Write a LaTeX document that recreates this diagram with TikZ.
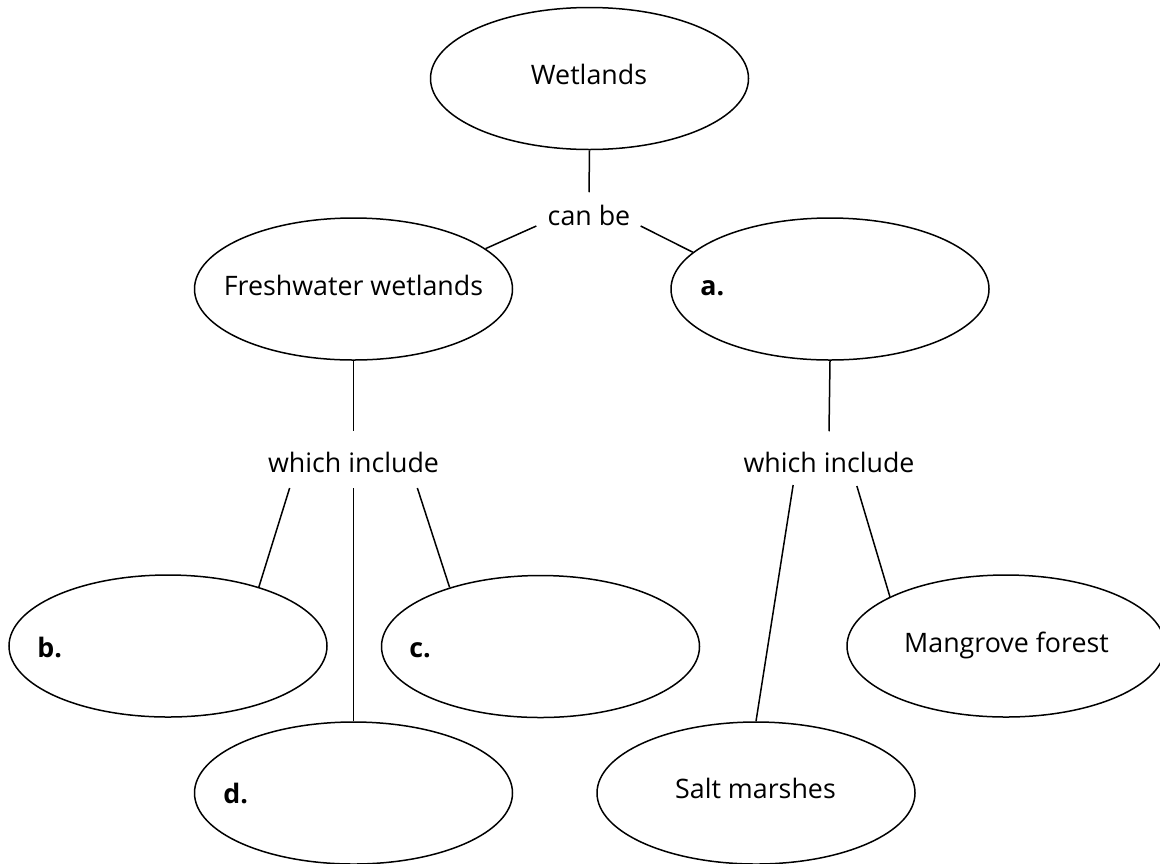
\documentclass[tikz,border=0pt]{standalone}
\usepackage{fontspec}
\setmainfont{Open Sans}
\usetikzlibrary{shapes.geometric}
\begin{document}
\begin{tikzpicture}[x=0.5pt,y=-0.5pt,
  every node/.style={font=\fontsize{13.4}{16}\selectfont},
  oval/.style={draw, ellipse, line width=0.75pt, minimum width=159pt, minimum height=71pt, inner sep=0pt},
  txt/.style={inner sep=0pt, anchor=base},
  lbl/.style={inner sep=0pt, anchor=base west, font=\fontsize{13.4}{16}\selectfont\bfseries},
  conn/.style={line width=0.75pt}]
\useasboundingbox (0,0) rectangle (1160,863);
% ellipses
\node[oval] (wet) at (589.5,78.5) {};
\node[oval] (fw) at (353.5,289) {};
\node[oval] (sw) at (830,289) {};
\node[oval] (b) at (168,646) {};
\node[oval] (c) at (540.5,646.5) {};
\node[oval] (d) at (353.5,793) {};
\node[oval] (mg) at (1006,646) {};
\node[oval] (sm) at (756,793) {};
% texts
\node[txt] (wett) at (589,84) {Wetlands};
\node[txt] (fwt) at (353.5,295) {Freshwater wetlands};
\node[txt] (mgt) at (1006.5,652) {Mangrove forest};
\node[txt] (smt) at (755.5,798) {Salt marshes};
\node[lbl] (at) at (700,295) {a.};
\node[lbl] (bt) at (37,657) {b.};
\node[lbl] (ct) at (409,657) {c.};
\node[lbl] (dt) at (223,803) {d.};
\node[txt] (canbe) at (589,225) {can be};
\node[txt] (wi1) at (353.5,472) {which include};
\node[txt] (wi2) at (829,472) {which include};
% connectors
\draw[conn] (wet.south) -- ([shift={(0,-12)}]canbe.north);
\draw[conn] ([shift={(-11,1)}]canbe.base west) -- (fw.17.6);
\draw[conn] ([shift={(10,1)}]canbe.base east) -- (sw.165);
\draw[conn] (fw.south) -- ([shift={(0,-20)}]wi1.north);
\draw[conn] ([shift={(22,16)}]wi1.base west) -- (b.33);
\draw[conn] ([shift={(0,16)}]wi1.base) -- (d.north);
\draw[conn] ([shift={(-22,16)}]wi1.base east) -- (c.147.8);
\draw[conn] (sw.south) -- ([shift={(0,-20)}]wi2.north);
\draw[conn] ([shift={(50,13)}]wi2.base west) -- (sm.north);
\draw[conn] ([shift={(-58,14)}]wi2.base east) -- (mg.157.7);
\end{tikzpicture}
\end{document}
